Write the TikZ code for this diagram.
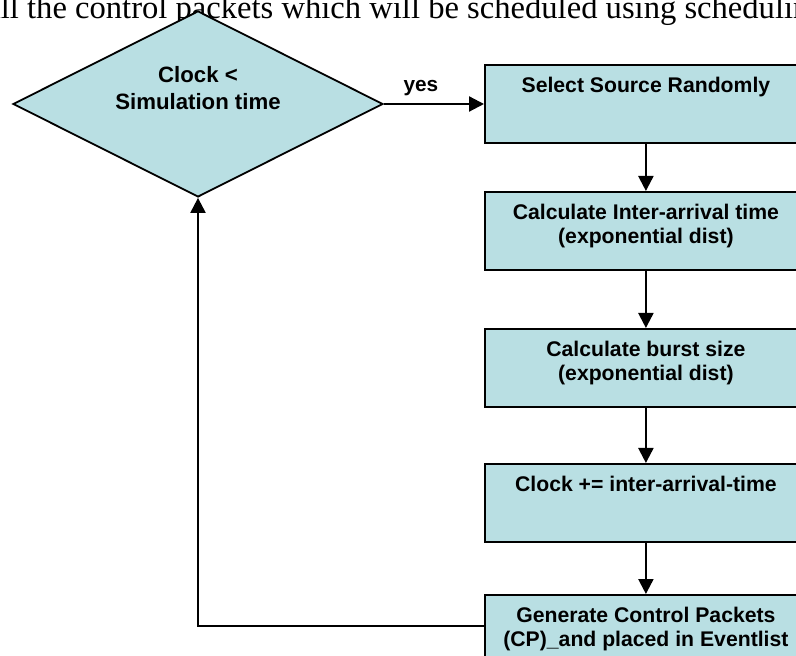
\documentclass[tikz,border=0pt]{standalone}
\usepackage{fontspec}
\setmainfont{Liberation Serif}
\setsansfont{Liberation Sans}
\usetikzlibrary{shapes.geometric,arrows.meta}
\definecolor{boxfill}{RGB}{185,223,227}
\begin{document}
\begin{tikzpicture}[x=0.5pt,y=-0.5pt,
  stepbox/.style={draw=black, fill=boxfill, line width=0.9pt,
    minimum width=161pt, minimum height=39pt, anchor=north west, inner sep=0pt},
  boxtext/.style={anchor=north, inner sep=0pt, yshift=-6.5pt, align=center,
    font=\sffamily\bfseries\fontsize{10.6}{12}\selectfont},
  decision/.style={diamond, draw=black, fill=boxfill, line width=0.9pt,
    minimum width=185pt, minimum height=93pt, inner sep=0pt},
  dtext/.style={anchor=center, inner sep=0pt, yshift=8pt, align=center,
    font=\sffamily\bfseries\fontsize{11.1}{13.5}\selectfont},
  flow/.style={line width=1.1pt, -{Triangle[length=7.5pt,width=7.5pt]}},
  small/.style={font=\sffamily\bfseries\fontsize{10.4}{12}\selectfont, inner sep=0pt}]
\useasboundingbox (0,0) rectangle (796,656);
\clip (0,0) rectangle (796,656);

% running text above the chart
\node[anchor=base west, inner sep=0pt, font=\fontsize{16.3}{20}\selectfont] (intro)
  at (-14,19) {all the control packets which will be scheduled using scheduling};

% loop condition
\node[decision, label={[dtext]center:Clock <\\Simulation time}] (cond) at (198,104) {};

% process steps
\node[stepbox, label={[boxtext]north:Select Source Randomly}] (src) at (484,64) {};
\node[stepbox, label={[boxtext]north:Calculate Inter-arrival time\\(exponential dist)}] (iat) at (484,191) {};
\node[stepbox, label={[boxtext]north:Calculate burst size\\(exponential dist)}] (burst) at (484,328) {};
\node[stepbox, label={[boxtext]north:Clock += inter-arrival-time}] (clk) at (484,463) {};
\node[stepbox, label={[boxtext]north:Generate Control Packets\\(CP)\_and placed in Eventlist}] (gen) at (484,594) {};

% connectors
\draw[flow] (cond.east) -- (cond.east -| src.west)
  node[small, pos=0.37, above=3.5pt] (yes) {yes};
\draw[flow] (src.south) -- (iat.north);
\draw[flow] (iat.south) -- (burst.north);
\draw[flow] (burst.south) -- (clk.north);
\draw[flow] (clk.south) -- (gen.north);
\draw[flow] ([yshift=-16pt]gen.north west) -| (cond.south);
\end{tikzpicture}
\end{document}
